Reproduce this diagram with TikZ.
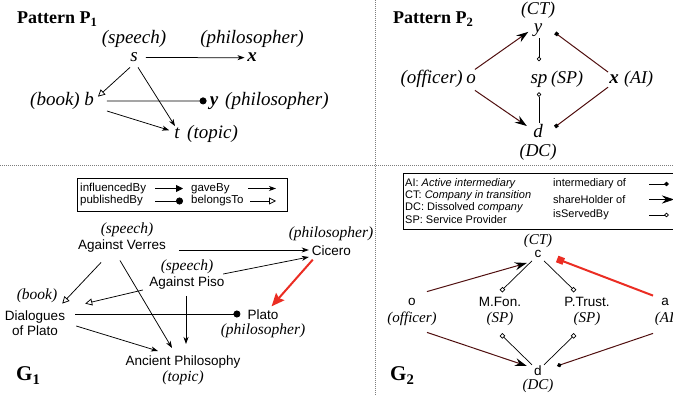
\documentclass[tikz,border=0pt]{standalone}
\usepackage{fontspec}
\setmainfont{Liberation Serif}
\setsansfont{Liberation Sans}
\usetikzlibrary{arrows.meta}
\definecolor{brn}{RGB}{80,15,15}
\definecolor{rd}{RGB}{235,45,35}
\definecolor{dv}{RGB}{125,125,125}
\begin{document}
\begin{tikzpicture}[x=1pt,y=-1pt,
  every node/.style={inner sep=0pt},
  divider/.style={dv, line width=1pt, dash pattern=on 1pt off 1pt},
  ttl/.style={font=\fontsize{18}{20}\selectfont\bfseries, anchor=base west},
  gttl/.style={font=\fontsize{21}{23}\selectfont\bfseries, anchor=base west},
  pl/.style={font=\fontsize{19}{21}\selectfont\itshape},
  pv/.style={font=\fontsize{19}{21}\selectfont\itshape, anchor=base},
  pbv/.style={font=\fontsize{19}{21}\selectfont\bfseries\itshape, anchor=base},
  gi/.style={font=\fontsize{15.5}{17}\selectfont\itshape},
  gs/.style={font=\sffamily\fontsize{13.5}{16}\selectfont},
  lg/.style={font=\sffamily\fontsize{11.5}{13}\selectfont, anchor=west},
  ln/.style={line width=0.75pt},
  gave/.style={ln, -{Stealth[length=7pt,width=5pt,inset=2pt]}},
  belongs/.style={ln, -{Triangle[open,length=7pt,width=7pt]}},
  pubby/.style={ln, -{Circle[length=7pt]}},
  infl/.style={ln, -{Triangle[length=7pt,width=7pt]}},
  redinfl/.style={rd, line width=2pt, -{Stealth[length=13pt,width=11pt,inset=2pt]}},
  shold/.style={brn, line width=1pt, -{Stealth[length=12pt,width=8pt,inset=4pt,color=black,fill=black]}},
  imsq/.style={brn, line width=1pt, -{Square[length=3.5pt,width=3.5pt,color=black,fill=black]}},
  imdia/.style={brn, line width=1pt, -{Diamond[length=5pt,width=4.5pt,color=black,fill=black]}},
  redsq/.style={rd, line width=2pt, -{Square[length=7pt,width=7pt]}},
  srvd/.style={line width=0.7pt, -{Diamond[open,length=5pt,width=4.5pt]}},
  srvs/.style={line width=0.7pt, -{Square[open,length=4pt,width=4pt]}}
]
\useasboundingbox (0,0) rectangle (673,395);
\draw[divider] (0,165.5) -- (673,165.5);
\draw[divider] (375,0) -- (375,395);

% ---------------- Pattern P1
\node[ttl] (tP1) at (17,24) {Pattern P\textsubscript{1}};
\node[pv] (sA) at (134,62) {s};
\node[pl, anchor=base] (sAl) at (134,44) {(speech)};
\node[pbv] (xA) at (252,62) {x};
\node[pl, anchor=base] (xAl) at (252,44) {(philosopher)};
\node[pv] (bA) at (89,106) {b};
\node[pl, anchor=base east] (bAl) at (80,106) {(book)};
\node[pbv] (yA) at (214,106) {y};
\node[pl, anchor=base west] (yAl) at (225,106) {(philosopher)};
\node[pv] (tA) at (177,139) {t};
\node[pl, anchor=base west] (tAl) at (187,139) {(topic)};

\draw[gave] ([shift={(8,0)}]sA.east) -- ([shift={(-2.5,0)}]xA.west);
\draw[belongs] ([shift={(-4,5)}]sA.south) -- ([shift={(4,4)}]bA.north east);
\draw[gave] ([shift={(4,5)}]sA.south) -- ([shift={(-2,-2)}]tA.north);
\draw[pubby] ([shift={(13,1.5)}]bA.east) -- ([shift={(-3,-2.8)}]yA.west);
\draw[gave] ([shift={(13,11.5)}]bA.east) -- ([shift={(-5,-3.5)}]tA.west);

% ---------------- Pattern P2
\node[ttl] (tP2) at (393,24) {Pattern P\textsubscript{2}};
\node[pl, font=\fontsize{18}{20}\selectfont\itshape] (ctB) at (538,10.5) {(CT)};
\node[pv] (yB) at (538,33) {y};
\node[pv] (oB) at (471,84) {o};
\node[pl, anchor=base east] (oBl) at (463,84) {(officer)};
\node[pv] (spB) at (539,84) {sp};
\node[pl, anchor=base west, font=\fontsize{18}{20}\selectfont\itshape] (spBl) at (551,84) {(SP)};
\node[pbv] (xB) at (614,84) {x};
\node[pl, anchor=base west, font=\fontsize{18}{20}\selectfont\itshape] (xBl) at (624,84) {(AI)};
\node[pv] (dB) at (538,137.5) {d};
\node[pl, font=\fontsize{18}{20}\selectfont\itshape] (dcB) at (538,152.5) {(DC)};

\draw[shold] ([shift={(-1,-5.4)}]oB.north east) -- ([shift={(-5.3,1.2)}]yB.west);
\draw[shold] ([shift={(-1,6)}]oB.south east) -- ([shift={(-6.2,-5)}]dB.west);
\draw[srvd] ([shift={(1,0.8)}]yB.south) -- ([shift={(0,-13.4)}]spB.north);
\draw[srvd] ([shift={(1,-1.5)}]dB.north) -- ([shift={(0,3.8)}]spB.south);
\draw[imsq] ([shift={(-1,-3)}]xB.north west) -- ([shift={(12.8,2.2)}]yB.east);
\draw[imsq] ([shift={(-1,3)}]xB.south west) -- ([shift={(12,-4)}]dB.east);

% ---------------- G1
\node[draw, line width=0.9pt, minimum width=210pt, minimum height=33pt] (legA) at (182.5,194.5) {};
\node[lg] (lgA1) at (80,188.5) {influencedBy};
\node[lg] (lgA2) at (80,201) {publishedBy};
\node[lg] (lgA3) at (191,188.5) {gaveBy};
\node[lg] (lgA4) at (191,201) {belongsTo};
\coordinate (la1s) at (155,188.5); \coordinate (la1e) at (183,188.5);
\coordinate (la2s) at (155,201); \coordinate (la2e) at (183,201);
\coordinate (la3s) at (248,188.5); \coordinate (la3e) at (276,188.5);
\coordinate (la4s) at (250,201); \coordinate (la4e) at (276,201);
\draw[infl] (la1s) -- (la1e);
\draw[pubby] (la2s) -- (la2e);
\draw[gave] (la3s) -- (la3e);
\draw[belongs] (la4s) -- (la4e);

\node[gs] (verres) at (122,246) {Against Verres};
\node[gi] (verresl) at (127,230) {(speech)};
\node[gs] (piso) at (187,283) {Against Piso};
\node[gi] (pisol) at (187,267) {(speech)};
\node[gs] (cicero) at (331.5,251) {Cicero};
\node[gi] (cicerol) at (331,234) {(philosopher)};
\node[gs] (plato) at (263,315) {Plato};
\node[gi] (platol) at (263,331) {(philosopher)};
\node[gs, align=center] (dial) at (35,323) {Dialogues\\[-0.5pt]of Plato};
\node[gi] (diall) at (37,296) {(book)};
\node[gs] (anc) at (183,362) {Ancient Philosophy};
\node[gi] (ancl) at (183,378) {(topic)};
\node[gttl] (gA) at (16,381) {G\textsubscript{1}};

\draw[gave] ([shift={(12.7,4)}]verres.east) -- ([shift={(-3,-1)}]cicero.west);
\draw[gave] ([shift={(-1.5,-2.5)}]piso.north east) -- ([shift={(-3,6)}]cicero.west);
\draw[redinfl] ([shift={(1,3.5)}]cicero.south west) -- ([shift={(-7,-3.5)}]plato.north east);
\draw[belongs] ([shift={(-21,10)}]verres.south) -- ([shift={(-3,-6.5)}]dial.north east);
\draw[belongs] ([shift={(-6.5,7)}]piso.west) -- ([shift={(20,-6.5)}]dial.north east);
\draw[pubby] ([shift={(10,-9)}]dial.east) -- ([shift={(-7,-1)}]plato.west);
\draw[gave] ([shift={(11,3)}]dial.east) -- ([shift={(-25,-4.5)}]anc.north);
\draw[gave] ([shift={(-2,8)}]verres.south) -- ([shift={(-11,-7.5)}]anc.north);
\draw[gave] ([shift={(-1,6.5)}]piso.south) -- ([shift={(3,-11.5)}]anc.north);

% ---------------- G2
\node[draw, line width=0.9pt, minimum width=280pt, minimum height=56pt] (legB) at (543,201) {};
\node[lg, font=\sffamily\fontsize{11}{13}\selectfont] (lb1) at (405,184) {AI: \textit{Active intermediary}};
\node[lg, font=\sffamily\fontsize{11}{13}\selectfont] (lb2) at (405,196) {CT: \textit{Company in transition}};
\node[lg, font=\sffamily\fontsize{11}{13}\selectfont] (lb3) at (405,208) {DC: Dissolved \textit{company}};
\node[lg, font=\sffamily\fontsize{11}{13}\selectfont] (lb4) at (405,220) {SP: Service Provider};
\node[lg, font=\sffamily\fontsize{11}{13}\selectfont] (lb5) at (553,184) {intermediary of};
\node[lg, font=\sffamily\fontsize{11}{13}\selectfont] (lb6) at (553,199.5) {shareHolder of};
\node[lg, font=\sffamily\fontsize{11}{13}\selectfont] (lb7) at (553,215) {isServedBy};
\coordinate (lb1s) at (649,184); \coordinate (lb1e) at (669,184);
\coordinate (lb2s) at (649,199.5); \coordinate (lb2e) at (674,199.5);
\coordinate (lb3s) at (649,215); \coordinate (lb3e) at (669,215);
\draw[ln, -{Diamond[length=5pt,width=4.5pt]}] (lb1s) -- (lb1e);
\draw[ln, -{Stealth[length=12pt,width=8pt,inset=4pt]}] (lb2s) -- (lb2e);
\draw[srvd] (lb3s) -- (lb3e);

\node[gi, font=\fontsize{15}{17}\selectfont\itshape] (ctG) at (538,240.5) {(CT)};
\node[gs] (cG) at (538,254) {c};
\node[gs] (oG) at (412,302) {o};
\node[gi, font=\fontsize{15}{17}\selectfont\itshape] (oGl) at (412,319) {(officer)};
\node[gs] (mfon) at (500,302) {M.Fon.};
\node[gi, font=\fontsize{15}{17}\selectfont\itshape] (mfonl) at (500,319) {(SP)};
\node[gs] (ptr) at (587,302) {P.Trust.};
\node[gi, font=\fontsize{15}{17}\selectfont\itshape] (ptrl) at (587,319) {(SP)};
\node[gs] (aG) at (665,302) {a};
\node[gi, font=\fontsize{15}{17}\selectfont\itshape] (aGl) at (667,319) {(AI)};
\node[gs] (dG) at (538,371) {d};
\node[gi, font=\fontsize{15}{17}\selectfont\itshape] (dGl) at (538,386) {(DC)};
\node[gttl] (gB) at (390,381) {G\textsubscript{2}};

\draw[shold] ([shift={(11,-6.5)}]oG.north east) -- ([shift={(-7.6,9)}]cG.west);
\draw[shold] ([shift={(11,26.5)}]oG.south east) -- ([shift={(-7.2,-5)}]dG.west);
\draw[srvs] ([shift={(-2.5,3)}]cG.south west) -- ([shift={(1,-6)}]mfon.north);
\draw[srvs] ([shift={(2.5,3)}]cG.south east) -- ([shift={(-12,-6)}]ptr.north);
\draw[srvs] ([shift={(-6,-1)}]dG.north) -- ([shift={(1,8.5)}]mfonl.south);
\draw[srvs] ([shift={(6,-1)}]dG.north) -- ([shift={(-12,8.5)}]ptrl.south);
\draw[redsq] ([shift={(-8,-2.5)}]aG.north west) -- ([shift={(15.6,5)}]cG.east);
\draw[imdia] ([shift={(-8,27.5)}]aG.south west) -- ([shift={(15,-5)}]dG.east);
\end{tikzpicture}
\end{document}
